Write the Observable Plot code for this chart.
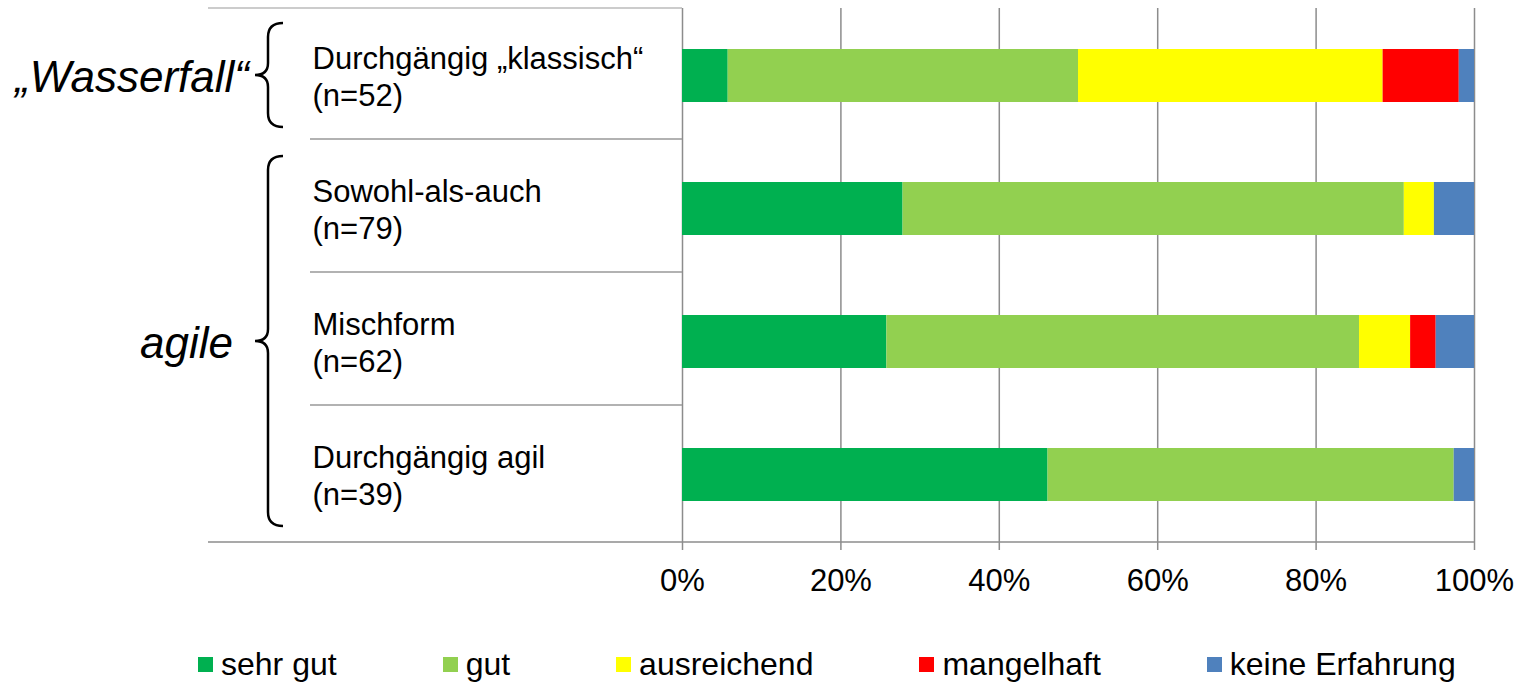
<!DOCTYPE html>
<html><head><meta charset="utf-8">
<script src="https://cdn.jsdelivr.net/npm/d3@7"></script>
<script src="https://cdn.jsdelivr.net/npm/@observablehq/plot@0.6"></script>
<style>
body{margin:0;background:#fff;font-family:"Liberation Sans",Arial,sans-serif;color:#000;}
#chart svg{display:block;}
#legend{display:flex;align-items:center;height:78px;padding-left:198px;font-size:32px;gap:106px;}
.item{display:flex;align-items:center;}
.sw{width:15px;height:15px;margin-right:8px;}
</style></head><body><div id="chart"></div><div id="legend"></div>
<script>
// ---- data ----
const categories = ["Durchgängig „klassisch“", "Sowohl-als-auch", "Mischform", "Durchgängig agil"];
const sampleSizes = [52, 79, 62, 39];
const ratings = ["sehr gut", "gut", "ausreichend", "mangelhaft", "keine Erfahrung"];
const sehrGut        = [3, 22, 16, 18];
const gut            = [23, 50, 37, 20];
const ausreichend    = [20, 3, 4, 0];
const mangelhaft     = [5, 0, 2, 0];
const keineErfahrung = [1, 4, 3, 1];
const ratingColors = ["#00B050", "#92D050", "#FFFF00", "#FF0000", "#4F81BD"];
const xTicks = [0, 0.2, 0.4, 0.6, 0.8, 1];
const groupLabels = ["„Wasserfall“", "agile"];
const groupMembers = [["Durchgängig „klassisch“"], ["Sowohl-als-auch", "Mischform", "Durchgängig agil"]];

// ---- build ----
const series = [sehrGut, gut, ausreichend, mangelhaft, keineErfahrung];
const rows = categories.flatMap((c, i) => ratings.map((r, j) => ({category: c, rating: r, count: series[j][i]})));
const nOf = new Map(categories.map((c, i) => [c, sampleSizes[i]]));

const W = 1522, H = 625;
const plot = Plot.plot({
  width: W, height: H,
  marginLeft: 682, marginRight: 48, marginTop: 8, marginBottom: 83,
  style: {fontFamily: "'Liberation Sans', Arial, sans-serif", fontSize: "31px", color: "#000", background: "#fff"},
  x: {domain: [0, 1], label: null},
  y: {domain: categories, range: [8, 542], paddingInner: 0.6, paddingOuter: 0.3, label: null},
  color: {domain: ratings, range: ratingColors},
  marks: [
    Plot.gridX({ticks: xTicks, stroke: "#8c8c8c", strokeOpacity: 1, strokeWidth: 1.5}),
    Plot.barX(rows, {x: "count", y: "category", fill: "rating", offset: "normalize", order: ratings}),
    Plot.axisX({ticks: xTicks, tickFormat: ".0%", tickSize: 8, tickPadding: 18, stroke: "#8c8c8c", strokeWidth: 1.5, label: null, fontSize: 31}),
    Plot.axisY({tickSize: 0, tickPadding: 0, textAnchor: "start", dx: -370, lineHeight: 1.17, fontSize: 31,
      tickFormat: c => c + "\n(n=" + nOf.get(c) + ")", label: null})
  ]
});
document.getElementById("chart").appendChild(plot);

// ---- decorations derived from scales ----
const ys = plot.scale("y");
const xsc = plot.scale("x");
const step = ys.step, bw = ys.bandwidth;
const gapHalf = (step - bw) / 2;
const frameTop = ys.range[0], frameBottom = ys.range[1], x0 = xsc.apply(0), x1 = xsc.apply(1);
const svg = d3.select(plot);
const g = svg.append("g");
// axis baseline
g.append("line").attr("x1", 208).attr("x2", x1).attr("y1", frameBottom).attr("y2", frameBottom)
  .attr("stroke", "#8c8c8c").attr("stroke-width", 1.5);
// top rule
g.append("line").attr("x1", 208).attr("x2", x0).attr("y1", frameTop).attr("y2", frameTop).attr("stroke", "#bbb").attr("stroke-width", 1.5);
// separators between rows in label panel
categories.slice(1).forEach(c => {
  const y = ys.apply(c) - gapHalf - 3;
  g.append("line").attr("x1", 310).attr("x2", x0).attr("y1", y).attr("y2", y).attr("stroke", "#999").attr("stroke-width", 1.5);
});
// braces and group labels
const labelGaps = [6, 22];
groupMembers.forEach((mem, k) => {
  const gTop = ys.apply(mem[0]) - gapHalf;
  const gBot = ys.apply(mem[mem.length - 1]) + bw + gapHalf;
  const y0 = gTop + 14, y1 = gBot - 15, m = (y0 + y1) / 2;
  const xr = 283, xs = 268, xt = 255;
  g.append("path").attr("fill", "none").attr("stroke", "#000").attr("stroke-width", 2.5)
    .attr("d", `M${xr},${y0} Q${xs},${y0} ${xs},${y0 + 14} L${xs},${m - 12} Q${xs},${m} ${xt},${m} Q${xs},${m} ${xs},${m + 12} L${xs},${y1 - 14} Q${xs},${y1} ${xr},${y1}`);
  g.append("text").attr("x", xt - labelGaps[k]).attr("y", m).attr("dy", "0.38em")
    .attr("text-anchor", "end").attr("font-style", "italic").attr("font-size", 44).text(groupLabels[k]);
});

// ---- legend ----
const legend = d3.select("#legend");
ratings.forEach((r, i) => {
  const it = legend.append("div").attr("class", "item");
  it.append("div").attr("class", "sw").style("background", ratingColors[i]);
  it.append("span").text(r);
});
</script>
</body></html>
